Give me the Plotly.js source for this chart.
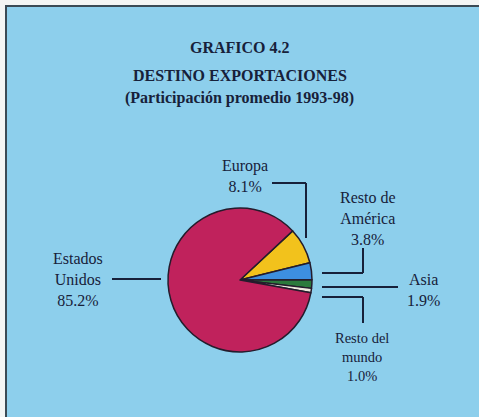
<!DOCTYPE html>
<html>
<head>
<meta charset="utf-8">
<script src="https://cdn.plot.ly/plotly-3.0.1.min.js"></script>
<style>html,body{margin:0;padding:0;background:#fff;}#chart{width:479px;height:417px;}</style>
</head>
<body>
<div id="chart"></div>
<script>
// ---- data ----
const titleLines = ["GRAFICO 4.2", "DESTINO EXPORTACIONES", "(Participación promedio 1993-98)"];
const labels = ["Europa", "Resto de<br>América", "Asia", "Resto del<br>mundo", "Estados<br>Unidos"];
const values = [8.1, 3.8, 1.9, 1.0, 85.2];
const sliceColors = ["#f2c21c", "#3d8fe0", "#2c7a3c", "#ece9dc", "#c0225c"];

// ---- layout helpers (pixel -> paper) ----
const W = 479, H = 417;
const px = x => x / W;
const py = y => 1 - y / H;
const ink = "#17213a";
const bg = "#8dcfec";

// label placement (pixel centres) in the same order as labels
const labelPos = [[245, 176], [368, 218], [423, 290], [362, 357], [78, 279]];
const labelSize = [16, 16, 16, 14.5, 16];

// leader lines (pixel coords)
const leaders = [
  [[272, 183], [306, 183]], [[306, 183], [306, 238]],
  [[322, 273], [363, 273]], [[363, 273], [363, 248]],
  [[322, 287], [398, 287]],
  [[322, 297], [363, 297]], [[363, 297], [363, 323]],
  [[112, 279], [161, 279]]
];

const cx = 240, cy = 280, r = 72;

const trace = {
  type: "pie",
  labels: labels,
  values: values,
  sort: false,
  direction: "clockwise",
  rotation: 47,
  textinfo: "none",
  hoverinfo: "none",
  marker: {colors: sliceColors, line: {color: "#241c2c", width: 1.5}},
  domain: {x: [px(cx - r), px(cx + r)], y: [py(cy + r), py(cy - r)]},
  showlegend: false
};

const annotations = [];
const titleY = [48, 75, 98];
titleLines.forEach((t, i) => annotations.push({
  text: "<b>" + t + "</b>", x: 0.5, y: py(titleY[i]), xref: "paper", yref: "paper",
  xanchor: "center", yanchor: "middle", showarrow: false,
  font: {family: "Liberation Serif, Times New Roman, serif", size: 16, color: ink}
}));
labels.forEach((l, i) => annotations.push({
  text: l + "<br>" + values[i].toFixed(1) + "%",
  x: px(labelPos[i][0]), y: py(labelPos[i][1]), xref: "paper", yref: "paper",
  xanchor: "center", yanchor: "middle", align: "center", showarrow: false,
  font: {family: "Liberation Serif, Times New Roman, serif", size: labelSize[i], color: ink}
}));

const shapes = [
  // white margin strips outside the frame
  {type: "rect", xref: "paper", yref: "paper", x0: 0, x1: 1, y0: py(5), y1: 1, fillcolor: "#f3f5f4", line: {width: 0}, layer: "below"},
  {type: "rect", xref: "paper", yref: "paper", x0: 0, x1: px(5), y0: 0, y1: 1, fillcolor: "#f3f5f4", line: {width: 0}, layer: "below"},
  // frame lines
  {type: "line", xref: "paper", yref: "paper", x0: px(5), x1: 1, y0: py(6), y1: py(6), line: {color: "#3a4a55", width: 2}},
  {type: "line", xref: "paper", yref: "paper", x0: px(6), x1: px(6), y0: 0, y1: py(5), line: {color: "#3a4a55", width: 2}}
];
leaders.forEach(seg => shapes.push({
  type: "line", xref: "paper", yref: "paper",
  x0: px(seg[0][0]), y0: py(seg[0][1]), x1: px(seg[1][0]), y1: py(seg[1][1]),
  line: {color: ink, width: 2}
}));

const layout = {
  width: W, height: H,
  margin: {l: 0, r: 0, t: 0, b: 0},
  paper_bgcolor: bg,
  plot_bgcolor: bg,
  showlegend: false,
  annotations: annotations,
  shapes: shapes
};

Plotly.newPlot("chart", [trace], layout, {displayModeBar: false, staticPlot: true});
</script>
</body>
</html>
